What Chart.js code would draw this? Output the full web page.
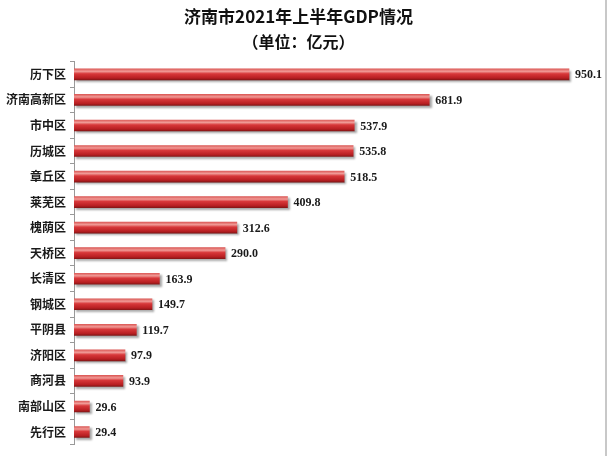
<!DOCTYPE html>
<html>
<head>
<meta charset="utf-8">
<script src="https://cdn.jsdelivr.net/npm/chart.js@4/dist/chart.umd.min.js"></script>
<style>
  html, body { margin: 0; padding: 0; background: #fff; }
  #wrap { position: relative; width: 607px; height: 456px; box-sizing: border-box; border-right: 2px solid #c8c8c8; }
</style>
</head>
<body>
<div id="wrap"><canvas id="gdpChart" width="605" height="456"></canvas></div>
<script>
// 济南市2021年上半年GDP (亿元)
var districts = ["历下区", "济南高新区", "市中区", "历城区", "章丘区", "莱芜区", "槐荫区", "天桥区",
                 "长清区", "钢城区", "平阴县", "济阳区", "商河县", "南部山区", "先行区"];
var gdpValues = [950.1, 681.9, 537.9, 535.8, 518.5, 409.8, 312.6, 290.0,
                 163.9, 149.7, 119.7, 97.9, 93.9, 29.6, 29.4];
var xMax = 1000;

// bar fill: light top, red body, dark bottom
function barFill(context) {
    var chart = context.chart;
    if (!chart.chartArea || !chart.scales.y) return '#c62b2b';
    var y = chart.scales.y.getPixelForValue(context.dataIndex);
    var g = chart.ctx.createLinearGradient(0, y - 6, 0, y + 6);
    g.addColorStop(0, '#d9504e');
    g.addColorStop(0.25, '#f09a96');
    g.addColorStop(0.45, '#d8383a');
    g.addColorStop(0.8, '#b81f22');
    g.addColorStop(1, '#7a1414');
    return g;
}

var barShadow = {
    id: 'barShadow',
    beforeDatasetDraw: function (chart) {
        var ctx = chart.ctx;
        ctx.save();
        ctx.shadowColor = 'rgba(0,0,0,0.35)';
        ctx.shadowOffsetX = 2;
        ctx.shadowOffsetY = 2;
        ctx.shadowBlur = 2;
    },
    afterDatasetDraw: function (chart) {
        chart.ctx.restore();
    }
};

var valueLabels = {
    id: 'valueLabels',
    afterDatasetsDraw: function (chart) {
        var ctx = chart.ctx;
        var meta = chart.getDatasetMeta(0);
        ctx.save();
        ctx.font = 'bold 12px "Liberation Serif", "DejaVu Serif", serif';
        ctx.fillStyle = '#1a1a1a';
        ctx.textAlign = 'left';
        ctx.textBaseline = 'middle';
        meta.data.forEach(function (bar, i) {
            ctx.fillText(gdpValues[i].toFixed(1), bar.x + 6, bar.y + 1);
        });
        ctx.restore();
    }
};

var ctx = document.getElementById("gdpChart").getContext('2d');
var gdpChart = new Chart(ctx, {
    type: 'bar',
    data: {
        labels: districts,
        datasets: [{
            data: gdpValues,
            backgroundColor: barFill,
            borderWidth: 0,
            barThickness: 11
        }]
    },
    options: {
        indexAxis: 'y',
        responsive: false,
        animation: false,
        layout: {
            padding: { left: 2, right: 10, top: 4, bottom: 9 }
        },
        plugins: {
            legend: { display: false },
            tooltip: { enabled: false },
            title: {
                display: true,
                text: '济南市2021年上半年GDP情况',
                color: '#111',
                font: { family: '"Noto Sans CJK SC"', size: 17, weight: 'bold' },
                padding: { top: 2, bottom: 2 }
            },
            subtitle: {
                display: true,
                text: '（单位：亿元）',
                color: '#111',
                font: { family: '"Noto Sans CJK SC"', size: 16, weight: 'bold' },
                padding: { top: 4, bottom: 10 }
            }
        },
        scales: {
            x: {
                display: false,
                min: 0,
                max: xMax
            },
            y: {
                grid: {
                    offset: true,
                    drawOnChartArea: false,
                    tickLength: 4,
                    color: '#999'
                },
                border: { color: '#999', width: 1 },
                ticks: {
                    color: '#1a1a1a',
                    padding: 4,
                    font: { family: '"Noto Sans CJK SC"', size: 12, weight: 'bold' }
                }
            }
        }
    },
    plugins: [barShadow, valueLabels]
});
</script>
</body>
</html>
